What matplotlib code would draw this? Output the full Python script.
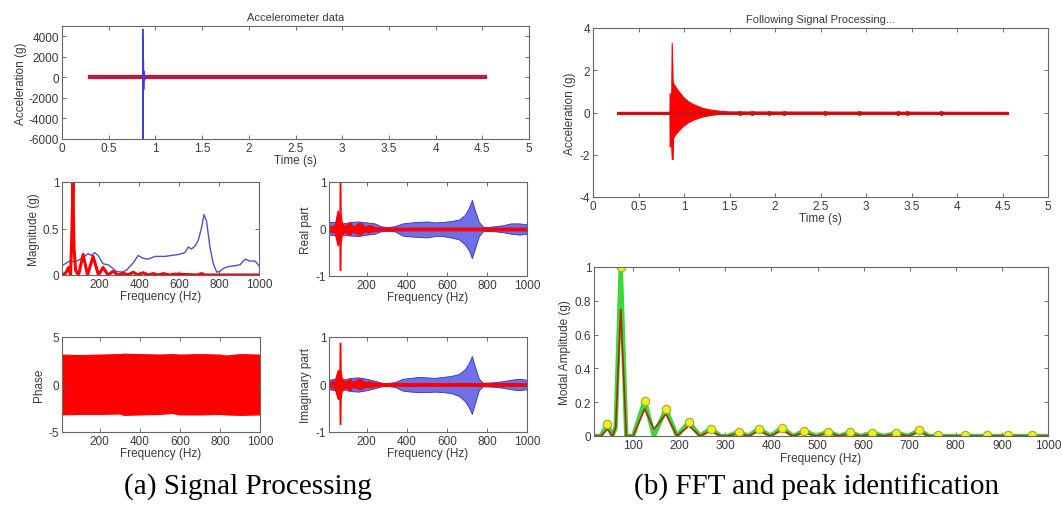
import matplotlib
matplotlib.use('Agg')
from matplotlib import pyplot as plt

plt.rcParams['font.family'] = ['Liberation Sans', 'DejaVu Sans']
plt.rcParams['axes.unicode_minus'] = False
plt.rcParams['font.size'] = 8.5

# ---- (a) raw accelerometer record ----
raw_t = [0.28, 0.865, 0.866, 0.867, 0.868, 0.870, 0.873, 0.876, 0.880, 0.885, 0.890, 4.55]
raw_a = [0, 0, 4700, -6000, 3800, -2500, 1800, -1200, 600, -300, 0, 0]
flat_t = [0.28, 4.55]
flat_a = [0, 0]

# ---- magnitude spectrum ----
mag_blue_f = [12, 34, 51, 80, 118, 143, 159, 176, 193, 218, 243, 268, 285, 310, 335, 369, 394,
              419, 444, 478, 528, 561, 595, 628, 645, 662, 679, 695, 712, 724, 737, 754, 771,
              788, 804, 821, 846, 880, 905, 930, 955, 980, 1000]
mag_blue_v = [0.10, 0.13, 0.15, 0.14, 0.19, 0.23, 0.21, 0.24, 0.21, 0.12, 0.11, 0.07, 0.04,
              0.03, 0.05, 0.13, 0.21, 0.18, 0.17, 0.20, 0.20, 0.21, 0.22, 0.24, 0.30, 0.28,
              0.31, 0.37, 0.51, 0.65, 0.58, 0.30, 0.12, 0.03, 0.04, 0.07, 0.09, 0.10, 0.11,
              0.17, 0.15, 0.15, 0.10]
mag_red_f = [12, 30, 45, 55, 62, 67, 72, 80, 95, 118, 140, 168, 195, 218, 243, 268, 293, 318,
             343, 369, 394, 419, 444, 469, 494, 520, 550, 578, 690, 712, 730, 1000]
mag_red_v = [0.0, 0.02, 0.08, 0.0, 0.5, 1.0, 0.3, 0.05, 0.0, 0.22, 0.0, 0.20, 0.0, 0.08, 0.0,
             0.04, 0.0, 0.02, 0.0, 0.03, 0.0, 0.025, 0.0, 0.015, 0.0, 0.015, 0.0, 0.01, 0.0,
             0.015, 0.0, 0.0]

# ---- real / imaginary part envelopes ----
env_f = [12, 40, 80, 120, 160, 200, 240, 270, 300, 340, 380, 420, 460, 500, 540, 580, 620,
         660, 690, 710, 725, 740, 760, 780, 800, 840, 880, 920, 960, 1000]
re_up = [0.15, 0.15, 0.12, 0.15, 0.16, 0.14, 0.12, 0.06, 0.04, 0.06, 0.12, 0.14, 0.15, 0.16,
         0.14, 0.15, 0.17, 0.20, 0.30, 0.45, 0.62, 0.40, 0.15, 0.05, 0.04, 0.06, 0.08, 0.12,
         0.12, 0.10]
re_lo = [-0.12, -0.13, -0.12, -0.14, -0.15, -0.12, -0.10, -0.05, -0.04, -0.05, -0.14, -0.16,
         -0.17, -0.18, -0.15, -0.15, -0.18, -0.22, -0.33, -0.45, -0.62, -0.42, -0.15, -0.05,
         -0.04, -0.05, -0.07, -0.10, -0.12, -0.10]
im_up = [0.10, 0.12, 0.10, 0.14, 0.15, 0.12, 0.08, 0.04, 0.03, 0.05, 0.12, 0.14, 0.16, 0.15,
         0.14, 0.16, 0.18, 0.22, 0.32, 0.45, 0.60, 0.38, 0.12, 0.04, 0.04, 0.05, 0.07, 0.10,
         0.12, 0.10]
im_lo = [-0.10, -0.12, -0.10, -0.14, -0.15, -0.12, -0.08, -0.04, -0.03, -0.05, -0.13, -0.15,
         -0.16, -0.16, -0.15, -0.16, -0.18, -0.24, -0.35, -0.48, -0.62, -0.40, -0.12, -0.04,
         -0.04, -0.05, -0.07, -0.10, -0.12, -0.10]
red_f = [12, 40, 55, 60, 64, 65, 69, 70, 75, 90, 110, 118, 130, 150, 168, 190, 210, 218, 240,
         280, 1000]
re_red_up = [0.05, 0.08, 0.40, 0.30, 0.30, 1.0, 1.0, 0.35, 0.15, 0.06, 0.12, 0.15, 0.05, 0.10,
             0.14, 0.05, 0.08, 0.08, 0.04, 0.03, 0.03]
re_red_lo = [-0.05, -0.08, -0.35, -0.30, -0.30, -0.87, -0.87, -0.30, -0.15, -0.06, -0.12,
             -0.12, -0.05, -0.10, -0.12, -0.05, -0.08, -0.06, -0.04, -0.03, -0.03]
im_red_up = [0.05, 0.08, 0.30, 0.30, 0.30, 0.88, 0.88, 0.30, 0.15, 0.06, 0.10, 0.12, 0.05,
             0.10, 0.12, 0.05, 0.07, 0.06, 0.04, 0.03, 0.03]
im_red_lo = [-0.05, -0.08, -0.30, -0.30, -0.30, -0.83, -0.83, -0.30, -0.15, -0.06, -0.10,
             -0.12, -0.05, -0.08, -0.10, -0.05, -0.06, -0.05, -0.04, -0.03, -0.03]

# ---- phase band ----
ph_f = [12, 100, 200, 300, 320, 400, 500, 560, 600, 700, 800, 830, 900, 1000]
ph_up = [3.15, 3.10, 3.15, 3.20, 3.25, 3.20, 3.15, 3.20, 3.15, 3.20, 3.15, 3.05, 3.20, 3.15]
ph_lo = [-3.15, -3.10, -3.10, -3.05, -3.20, -3.15, -3.10, -3.00, -3.15, -3.15, -3.10, -3.15,
         -3.20, -3.15]

# ---- (b) processed signal ----
sig_t = [0.28, 0.84, 0.842, 0.86, 0.865, 0.875, 0.88, 0.90, 0.95, 1.0, 1.05, 1.1, 1.2, 1.3,
         1.4, 1.5, 4.55]
sig_up = [0.03, 0.03, 0.90, 0.90, 3.30, 1.50, 1.40, 1.25, 0.95, 0.70, 0.52, 0.40, 0.22, 0.13,
          0.08, 0.05, 0.03]
sig_lo = [-0.03, -0.03, -1.60, -1.60, -2.20, -2.20, -1.20, -1.05, -0.80, -0.60, -0.45, -0.34,
          -0.19, -0.11, -0.06, -0.05, -0.03]
blip_t = [1.62, 1.75, 1.93, 2.10, 2.55, 2.92, 3.35, 3.45, 3.82]

# ---- modal amplitudes ----
fft_f = [15, 30, 44, 55, 62, 73, 85, 100, 125, 145, 171, 195, 221, 245, 268, 290, 305, 329,
         350, 373, 398, 423, 447, 471, 497, 523, 547, 570, 594, 618, 645, 671, 696, 721, 742,
         1000]
fft_green = [0, 0, 0.07, 0, 0.05, 1.0, 0, 0, 0.21, 0, 0.16, 0, 0.083, 0, 0.044, 0, 0, 0.024,
             0, 0.044, 0, 0.05, 0, 0.032, 0, 0.026, 0, 0.022, 0, 0.018, 0, 0.02, 0, 0.034, 0,
             0]
fft_red = [0, 0, 0.04, 0, 0.05, 0.75, 0, 0, 0.16, 0.04, 0.13, 0, 0.06, 0, 0.03, 0, 0, 0.015,
           0, 0.03, 0, 0.035, 0, 0.02, 0, 0.018, 0, 0.015, 0, 0.012, 0, 0.014, 0, 0.025, 0, 0]
peak_f = [44, 73, 125, 171, 221, 268, 329, 373, 423, 471, 523, 570, 618, 671, 721, 762, 819,
          868, 913, 965]
peak_v = [0.07, 1.0, 0.21, 0.16, 0.083, 0.044, 0.024, 0.044, 0.05, 0.032, 0.026, 0.022,
          0.018, 0.02, 0.034, 0.006, 0.005, 0.005, 0.005, 0.005]

W, H = 1062, 506
TXT = '#3a3a3a'
RED = '#ff0000'
BLUE_FILL = '#6f6fe6'
BLUE_EDGE = '#3030c8'


def box(l, t, r, b):
    return [l / W, 1 - b / H, (r - l) / W, (b - t) / H]


def style(ax):
    ax.tick_params(direction='in', top=True, right=True, length=3, width=0.6,
                   colors='#555555', labelcolor=TXT, labelsize=8.5, pad=2)
    for s in ax.spines.values():
        s.set_color('#666666')
        s.set_linewidth(0.8)


fig = plt.figure(figsize=(W / 100, H / 100), dpi=100)

# accelerometer data
ax = fig.add_axes(box(62, 27, 529, 140))
ax.plot(flat_t, flat_a, color=RED, lw=3.0, solid_capstyle='butt')
ax.plot(raw_t, raw_a, color='#4040d0', lw=0.8)
ax.set_xlim(0, 5)
ax.set_ylim(-6000, 5000)
ax.set_xticks([0, 0.5, 1, 1.5, 2, 2.5, 3, 3.5, 4, 4.5, 5])
ax.set_xticklabels(['0', '0.5', '1', '1.5', '2', '2.5', '3', '3.5', '4', '4.5', '5'])
ax.set_yticks([-6000, -4000, -2000, 0, 2000, 4000])
ax.set_title('Accelerometer data', color=TXT, fontsize=8, pad=4)
ax.set_xlabel('Time (s)', color=TXT, labelpad=0)
ax.set_ylabel('Acceleration (g)', color=TXT, labelpad=1)
style(ax)

# magnitude
ax = fig.add_axes(box(62, 183, 259, 276))
ax.plot(mag_blue_f, mag_blue_v, color='#5050c8', lw=1.0)
ax.plot(mag_red_f, mag_red_v, color=RED, lw=2.2)
ax.set_xlim(12, 1000)
ax.set_ylim(0, 1)
ax.set_xticks([200, 400, 600, 800, 1000])
ax.set_yticks([0, 0.5, 1])
ax.set_yticklabels(['0', '0.5', '1'])
ax.set_xlabel('Frequency (Hz)', color=TXT, labelpad=0)
ax.set_ylabel('Magnitude (g)', color=TXT, labelpad=2)
style(ax)

# real part
ax = fig.add_axes(box(329, 183, 527, 277))
ax.fill_between(env_f, re_lo, re_up, facecolor=BLUE_FILL, edgecolor=BLUE_EDGE, lw=0.6)
ax.fill_between(red_f, re_red_lo, re_red_up, facecolor=RED, edgecolor=RED, lw=0.8)
ax.set_xlim(12, 1000)
ax.set_ylim(-1, 1)
ax.set_xticks([200, 400, 600, 800, 1000])
ax.set_yticks([-1, 0, 1])
ax.set_xlabel('Frequency (Hz)', color=TXT, labelpad=0)
ax.set_ylabel('Real part', color=TXT, labelpad=3)
style(ax)

# phase
ax = fig.add_axes(box(62, 338, 260, 433))
ax.fill_between(ph_f, ph_lo, ph_up, facecolor=RED, edgecolor=RED, lw=0.8)
ax.set_xlim(12, 1000)
ax.set_ylim(-5, 5)
ax.set_xticks([200, 400, 600, 800, 1000])
ax.set_yticks([-5, 0, 5])
ax.set_xlabel('Frequency (Hz)', color=TXT, labelpad=0)
ax.set_ylabel('Phase', color=TXT, labelpad=3)
style(ax)

# imaginary part
ax = fig.add_axes(box(329, 338, 527, 433))
ax.fill_between(env_f, im_lo, im_up, facecolor=BLUE_FILL, edgecolor=BLUE_EDGE, lw=0.6)
ax.fill_between(red_f, im_red_lo, im_red_up, facecolor=RED, edgecolor=RED, lw=0.8)
ax.set_xlim(12, 1000)
ax.set_ylim(-1, 1)
ax.set_xticks([200, 400, 600, 800, 1000])
ax.set_yticks([-1, 0, 1])
ax.set_xlabel('Frequency (Hz)', color=TXT, labelpad=0)
ax.set_ylabel('Imaginary part', color=TXT, labelpad=3)
style(ax)

# following signal processing
ax = fig.add_axes(box(593, 29, 1048, 198))
ax.fill_between(sig_t, sig_lo, sig_up, facecolor=RED, edgecolor=RED, lw=0.8)
ax.plot(flat_t, flat_a, color='#d01010', lw=2.2)
ax.plot(blip_t, [0] * len(blip_t), ls='none', marker='o', ms=2.5, color='#d01010')
ax.set_xlim(0, 5)
ax.set_ylim(-4, 4)
ax.set_xticks([0, 0.5, 1, 1.5, 2, 2.5, 3, 3.5, 4, 4.5, 5])
ax.set_xticklabels(['0', '0.5', '1', '1.5', '2', '2.5', '3', '3.5', '4', '4.5', '5'])
ax.set_yticks([-4, -2, 0, 2, 4])
ax.set_title('Following Signal Processing...', color=TXT, fontsize=8, pad=4)
ax.set_xlabel('Time (s)', color=TXT, labelpad=0)
ax.set_ylabel('Acceleration (g)', color=TXT, labelpad=3)
style(ax)

# modal amplitude
ax = fig.add_axes(box(594, 268, 1048, 437))
ax.plot(fft_f, fft_green, color='#3ad83a', lw=3.2)
ax.plot(fft_f, fft_red, color='#b02a10', lw=1.2)
ax.plot(peak_f, peak_v, ls='none', marker='o', ms=6, mfc='#f0f020', mec='#a8a820', mew=0.8)
ax.set_xlim(15, 1000)
ax.set_ylim(0, 1)
ax.set_xticks([100, 200, 300, 400, 500, 600, 700, 800, 900, 1000])
ax.set_yticks([0, 0.2, 0.4, 0.6, 0.8, 1])
ax.set_yticklabels(['0', '0.2', '0.4', '0.6', '0.8', '1'])
ax.set_xlabel('Frequency (Hz)', color=TXT, labelpad=1)
ax.set_ylabel('Modal Amplitude (g)', color=TXT, labelpad=3)
style(ax)

# captions
fig.text(248 / W, 1 - 487 / H, '(a) Signal Processing', ha='center', va='center',
         family=['Liberation Serif', 'DejaVu Serif'], fontsize=21, color='black')
fig.text(817 / W, 1 - 487 / H, '(b) FFT and peak identification', ha='center',
         va='center', family=['Liberation Serif', 'DejaVu Serif'], fontsize=21, color='black')

fig.savefig('out.png', dpi=100)
